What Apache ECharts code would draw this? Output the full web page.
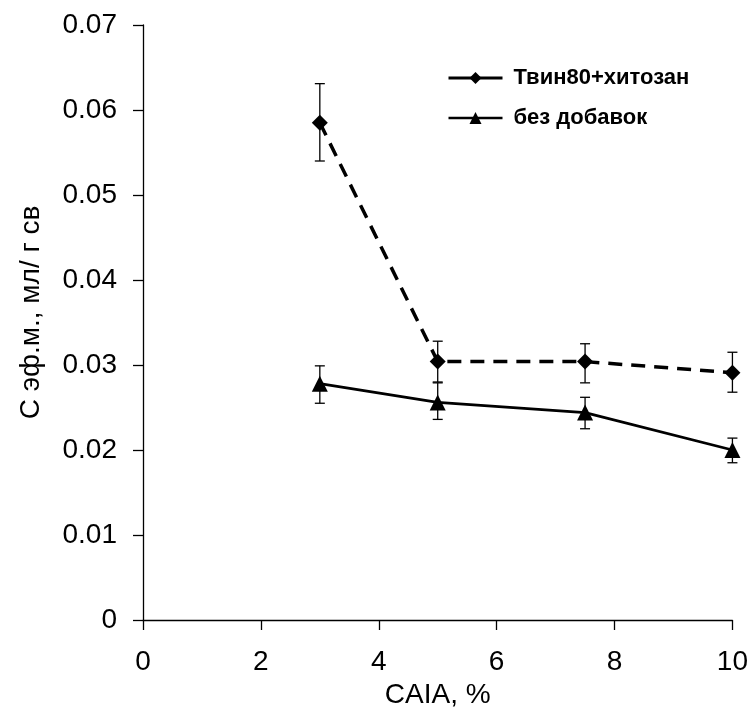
<!DOCTYPE html>
<html>
<head>
<meta charset="utf-8">
<script src="https://cdn.jsdelivr.net/npm/echarts@6/dist/echarts.min.js"></script>
<style>
html,body{margin:0;padding:0;background:#fff;}
#chart{width:751px;height:715px;}
</style>
</head>
<body>
<div id="chart"></div>
<script>
// Data
var xValues = [3, 5, 7.5, 10];
var seriesNames = ['Твин80+хитозан', 'без добавок'];
var tweenValues = [0.0585, 0.0304, 0.0304, 0.0291];
var tweenErrLow = [0.0540, 0.0280, 0.0279, 0.0268];
var tweenErrHigh = [0.0631, 0.0328, 0.0325, 0.0315];
var plainValues = [0.0278, 0.0256, 0.0244, 0.0200];
var plainErrLow = [0.0255, 0.0236, 0.0225, 0.0185];
var plainErrHigh = [0.0299, 0.0279, 0.0262, 0.0214];
var yTicks = [0, 0.01, 0.02, 0.03, 0.04, 0.05, 0.06, 0.07];
var xTicks = [0, 2, 4, 6, 8, 10];

var chart = echarts.init(document.getElementById('chart'));
var FONT = 'Arial, "Liberation Sans", sans-serif';

function pairs(xs, ys) { return xs.map(function (x, i) { return [x, ys[i]]; }); }
function errData(xs, lo, hi) { return xs.map(function (x, i) { return [x, lo[i], hi[i]]; }); }

function errRender(params, api) {
  var x = api.value(0);
  var lo = api.coord([x, api.value(1)]);
  var hi = api.coord([x, api.value(2)]);
  var w = 5;
  var st = { stroke: '#000', lineWidth: 1.3 };
  return {
    type: 'group',
    children: [
      { type: 'line', shape: { x1: lo[0], y1: lo[1], x2: hi[0], y2: hi[1] }, style: st },
      { type: 'line', shape: { x1: lo[0] - w, y1: lo[1], x2: lo[0] + w, y2: lo[1] }, style: st },
      { type: 'line', shape: { x1: hi[0] - w, y1: hi[1], x2: hi[0] + w, y2: hi[1] }, style: st }
    ]
  };
}

chart.setOption({
  animation: false,
  backgroundColor: '#fff',
  grid: { left: 143, right: 16, top: 25, bottom: 95, containLabel: false },
  legend: {
    orient: 'vertical',
    left: 442,
    top: 62,
    itemGap: 18,
    itemWidth: 54,
    itemHeight: 15,
    data: [
      { name: seriesNames[0], lineStyle: { type: 'solid', width: 3 } },
      { name: seriesNames[1], lineStyle: { width: 2.5 } }
    ],
    textStyle: { fontFamily: FONT, fontSize: 22, fontWeight: 'bold', color: '#000', padding: [0, 0, 0, 6] }
  },
  xAxis: {
    type: 'value',
    min: 0, max: 10, interval: 2,
    name: 'CAIA, %',
    nameLocation: 'middle',
    nameGap: 55,
    nameTextStyle: { fontFamily: FONT, fontSize: 28, color: '#000' },
    axisLine: { show: true, onZero: false, lineStyle: { color: '#000', width: 1.3 } },
    axisTick: { show: true, inside: false, length: 10, lineStyle: { color: '#000', width: 1.3 } },
    axisLabel: { fontFamily: FONT, fontSize: 28, color: '#000', margin: 28,
      formatter: function (v) { return xTicks.indexOf(v) >= 0 ? String(v) : ''; } },
    splitLine: { show: false }
  },
  yAxis: {
    type: 'value',
    min: 0, max: 0.07, interval: 0.01,
    name: 'С эф.м., мл/ г св',
    nameLocation: 'middle',
    nameGap: 98,
    nameRotate: 90,
    nameTextStyle: { fontFamily: FONT, fontSize: 28, color: '#000', padding: [0, 0, 0, 20] },
    axisLine: { show: true, onZero: false, lineStyle: { color: '#000', width: 1.3 } },
    axisTick: { show: true, inside: false, length: 10, lineStyle: { color: '#000', width: 1.3 } },
    axisLabel: { fontFamily: FONT, fontSize: 28, color: '#000', margin: 26,
      formatter: function (v) {
        var t = yTicks.filter(function (y) { return Math.abs(y - v) < 1e-9; });
        return t.length ? String(+t[0].toFixed(2)) : '';
      } },
    splitLine: { show: false }
  },
  series: [
    {
      name: seriesNames[0] + ' err',
      type: 'custom',
      renderItem: errRender,
      data: errData(xValues, tweenErrLow, tweenErrHigh),
      encode: { x: 0, y: [1, 2] },
      z: 1
    },
    {
      name: seriesNames[1] + ' err',
      type: 'custom',
      renderItem: errRender,
      data: errData(xValues, plainErrLow, plainErrHigh),
      encode: { x: 0, y: [1, 2] },
      z: 1
    },
    {
      name: seriesNames[0],
      type: 'line',
      data: pairs(xValues, tweenValues),
      symbol: 'diamond',
      symbolSize: 16,
      itemStyle: { color: '#000' },
      lineStyle: { color: '#000', width: 3.5, type: [14, 9] },
      z: 3
    },
    {
      name: seriesNames[1],
      type: 'line',
      data: pairs(xValues, plainValues),
      symbol: 'triangle',
      symbolSize: 16,
      itemStyle: { color: '#000' },
      lineStyle: { color: '#000', width: 2.8, type: 'solid' },
      z: 3
    }
  ]
});
</script>
</body>
</html>
